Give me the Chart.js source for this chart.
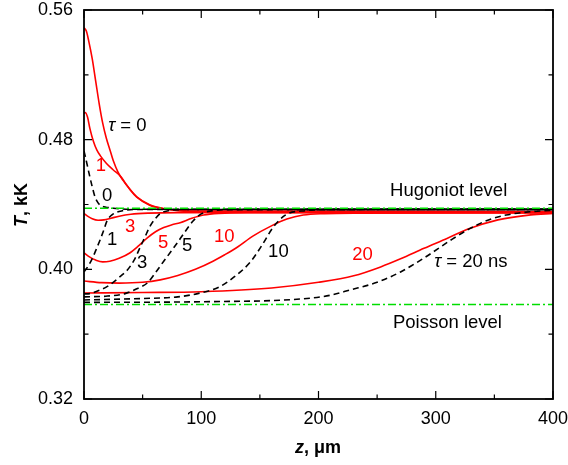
<!DOCTYPE html>
<html>
<head>
<meta charset="utf-8">
<script src="https://cdn.jsdelivr.net/npm/chart.js@4.4.0/dist/chart.umd.min.js"></script>
<style>
  html, body { margin: 0; padding: 0; background: #fff; }
</style>
</head>
<body>
<canvas id="chart" width="568" height="465"></canvas>
<script>
// tick labels
const xTickLabels = [0, 100, 200, 300, 400];
const yTickLabels = [0.32, 0.40, 0.48, 0.56];

// levels
const hugoniotLevel = 0.4377;
const poissonLevel = 0.3783;

// solid red curves (tau = 0, 1, 3, 5, 10, 20 ns)
const zRed0 = [0, 2, 4, 7, 10, 13, 16, 19, 22, 25, 29, 33, 39, 45, 56, 68, 90, 400];
const tRed0 = [0.549, 0.547, 0.541, 0.530, 0.516, 0.502, 0.490, 0.481, 0.474, 0.467, 0.460, 0.4552, 0.4495, 0.4447, 0.4398, 0.4375, 0.436, 0.4357];
const zRed1 = [0, 1, 3, 5, 8, 11, 14, 19, 25, 31, 36, 40, 45, 56, 68, 90, 400];
const tRed1 = [0.496, 0.4968, 0.494, 0.487, 0.479, 0.4735, 0.470, 0.4655, 0.4613, 0.4575, 0.4525, 0.4485, 0.4445, 0.4396, 0.4374, 0.4358, 0.4355];
const zRed3 = [0, 3, 7, 12, 17, 23, 30, 40, 55, 80, 400];
const tRed3 = [0.4345, 0.4328, 0.4312, 0.4303, 0.4305, 0.4315, 0.4328, 0.434, 0.4347, 0.435, 0.4352];
const zRed5 = [0, 5, 10, 16, 22, 30, 39, 47, 54, 61, 68, 75, 82, 92, 102, 115, 140, 400];
const tRed5 = [0.4101, 0.4075, 0.4057, 0.4046, 0.4050, 0.4068, 0.4101, 0.4148, 0.4194, 0.4232, 0.4258, 0.4275, 0.4288, 0.4315, 0.4335, 0.4345, 0.4349, 0.435];
const zRed10 = [0, 15, 30, 50, 65, 80, 95, 110, 120, 131, 144, 159, 173, 187, 205, 230, 400];
const tRed10 = [0.3928, 0.3918, 0.3915, 0.392, 0.3935, 0.3962, 0.400, 0.405, 0.409, 0.4138, 0.4205, 0.4265, 0.431, 0.4335, 0.4344, 0.4347, 0.4348];
const zRed20 = [0, 50, 100, 160, 200, 230, 253, 270, 290, 310, 327, 353, 381, 400];
const tRed20 = [0.3854, 0.3857, 0.3862, 0.3885, 0.392, 0.396, 0.4015, 0.4065, 0.4130, 0.4192, 0.4247, 0.4305, 0.4336, 0.4345];

// dashed black curves (tau = 0, 1, 3, 5, 10, 20 ns)
const zBlk0 = [0, 1, 3, 5, 7, 9.4, 12, 14, 18, 25, 40, 400];
const tBlk0 = [0.473, 0.470, 0.4635, 0.457, 0.451, 0.4447, 0.441, 0.4395, 0.4385, 0.4377, 0.4371, 0.437];
const zBlk1 = [0, 4, 7.7, 10.5, 13.7, 17, 19.7, 23.9, 33, 45, 400];
const tBlk1 = [0.3985, 0.4025, 0.4077, 0.4125, 0.4181, 0.4245, 0.430, 0.4336, 0.4362, 0.4369, 0.437];
const zBlk3 = [0, 5, 10, 20, 30, 37, 43, 48, 52, 56, 60, 65, 72, 85, 400];
const tBlk3 = [0.3848, 0.385, 0.3862, 0.3895, 0.395, 0.3996, 0.406, 0.4138, 0.420, 0.4262, 0.4305, 0.4345, 0.4362, 0.4369, 0.437];
const zBlk5 = [0, 20, 35, 45, 54, 62, 68, 74, 80, 86, 93, 100, 110, 125, 400];
const tBlk5 = [0.383, 0.3835, 0.385, 0.388, 0.3916, 0.399, 0.405, 0.4108, 0.4168, 0.423, 0.4298, 0.4342, 0.4362, 0.4368, 0.437];
const zBlk10 = [0, 50, 80, 99, 115, 127, 142, 152, 161, 172, 189, 210, 400];
const tBlk10 = [0.3811, 0.382, 0.383, 0.3854, 0.389, 0.3947, 0.4046, 0.4151, 0.4256, 0.4336, 0.4362, 0.4368, 0.437];
const zBlk20 = [0, 100, 185, 210, 227, 250, 270, 290, 313, 330, 345, 360, 380, 400];
const tBlk20 = [0.3796, 0.380, 0.3817, 0.384, 0.3873, 0.392, 0.3984, 0.407, 0.4181, 0.4255, 0.4305, 0.4335, 0.4355, 0.4365];

const RED = '#ff0000';
const GREEN = '#00dd00';
const FONT = '"Liberation Sans", Arial, sans-serif';

// text placed on the plot, in data coordinates
const annotations = [
  { parts: [['τ', 'italic '], [' = 0', '']], z: 37, t: 0.4885, color: '#000' },
  { parts: [['1', '']], z: 14.5, t: 0.4638, color: RED },
  { parts: [['0', '']], z: 19.7, t: 0.4453, color: '#000' },
  { parts: [['3', '']], z: 39.3, t: 0.4262, color: RED },
  { parts: [['1', '']], z: 23.9, t: 0.4181, color: '#000' },
  { parts: [['5', '']], z: 67.5, t: 0.4163, color: RED },
  { parts: [['3', '']], z: 49.6, t: 0.404, color: '#000' },
  { parts: [['5', '']], z: 88, t: 0.4144, color: '#000' },
  { parts: [['10', '']], z: 119.7, t: 0.420, color: RED },
  { parts: [['10', '']], z: 165.8, t: 0.4107, color: '#000' },
  { parts: [['20', '']], z: 237.6, t: 0.4089, color: RED },
  { parts: [['τ', 'italic '], [' = 20 ns', '']], z: 330, t: 0.4046, color: '#000' },
  { parts: [['Hugoniot level', '']], z: 311, t: 0.4484, color: '#000' },
  { parts: [['Poisson level', '']], z: 310, t: 0.3669, color: '#000' }
];

function pts(zs, ts) {
  return zs.map((z, i) => ({ x: z, y: ts[i] }));
}

function solid(zs, ts) {
  return { data: pts(zs, ts), borderColor: RED, borderWidth: 1.6, pointRadius: 0, cubicInterpolationMode: 'monotone', fill: false };
}
function dashed(zs, ts) {
  return { data: pts(zs, ts), borderColor: '#000', borderWidth: 1.6, borderDash: [6, 4], pointRadius: 0, cubicInterpolationMode: 'monotone', fill: false };
}
function level(t) {
  return { data: [{ x: 0, y: t }, { x: 400, y: t }], borderColor: GREEN, borderWidth: 1.5, borderDash: [8, 3, 2, 3], pointRadius: 0, fill: false };
}

function drawParts(ctx, parts, cx, cy, size, weight) {
  let total = 0;
  parts.forEach(p => {
    ctx.font = p[1] + (weight || '') + ' ' + size + 'px ' + FONT;
    total += ctx.measureText(p[0]).width;
  });
  let x = cx - total / 2;
  parts.forEach(p => {
    ctx.font = p[1] + (weight || '') + ' ' + size + 'px ' + FONT;
    ctx.fillText(p[0], x, cy);
    x += ctx.measureText(p[0]).width;
  });
}

const framePlugin = {
  id: 'frame',
  afterDraw(chart) {
    const ctx = chart.ctx;
    const a = chart.chartArea;
    const xs = chart.scales.x, ys = chart.scales.y;
    ctx.save();
    ctx.strokeStyle = '#000';
    ctx.lineWidth = 1.8;
    ctx.strokeRect(a.left, a.top, a.right - a.left, a.bottom - a.top);
    ctx.lineWidth = 1.2;
    ctx.beginPath();
    xs.ticks.forEach(tk => {
      const px = xs.getPixelForValue(tk.value);
      const len = xTickLabels.includes(Math.round(tk.value)) ? 8 : 4.5;
      ctx.moveTo(px, a.bottom); ctx.lineTo(px, a.bottom - len);
      ctx.moveTo(px, a.top); ctx.lineTo(px, a.top + len);
    });
    ys.ticks.forEach(tk => {
      const py = ys.getPixelForValue(tk.value);
      const major = Math.round(tk.value * 100) % 8 === 0;
      const len = major ? 8 : 4.5;
      ctx.moveTo(a.left, py); ctx.lineTo(a.left + len, py);
      ctx.moveTo(a.right, py); ctx.lineTo(a.right - len, py);
    });
    ctx.stroke();

    ctx.textAlign = 'left';
    ctx.textBaseline = 'middle';
    annotations.forEach(an => {
      ctx.fillStyle = an.color;
      drawParts(ctx, an.parts, xs.getPixelForValue(an.z), ys.getPixelForValue(an.t), 18.5, '');
    });

    // axis titles
    ctx.fillStyle = '#000';
    drawParts(ctx, [['z', 'italic '], [', μm', '']], 318, 448, 18, 'bold');
    ctx.translate(22, 205);
    ctx.rotate(-Math.PI / 2);
    drawParts(ctx, [['T', 'italic '], [', kK', '']], 0, 0, 18, 'bold');
    ctx.restore();
  }
};

new Chart(document.getElementById('chart'), {
  type: 'line',
  data: {
    datasets: [
      level(hugoniotLevel),
      level(poissonLevel),
      dashed(zBlk0, tBlk0), dashed(zBlk1, tBlk1), dashed(zBlk3, tBlk3),
      dashed(zBlk5, tBlk5), dashed(zBlk10, tBlk10), dashed(zBlk20, tBlk20),
      solid(zRed0, tRed0), solid(zRed1, tRed1), solid(zRed3, tRed3),
      solid(zRed5, tRed5), solid(zRed10, tRed10), solid(zRed20, tRed20)
    ]
  },
  options: {
    responsive: false,
    animation: false,
    layout: { padding: { top: 10, right: 15, left: 0, bottom: 0 } },
    plugins: { legend: { display: false }, tooltip: { enabled: false } },
    scales: {
      x: {
        type: 'linear', min: 0, max: 400,
        grid: { display: false, drawTicks: false },
        border: { display: false },
        ticks: {
          stepSize: 50, padding: 9, color: '#000', maxRotation: 0,
          font: { family: FONT, size: 18 },
          callback: v => xTickLabels.includes(Math.round(v)) ? String(Math.round(v)) : ''
        },
        afterFit: s => { s.height = 66; s.paddingLeft = 0; s.paddingRight = 0; }
      },
      y: {
        type: 'linear', min: 0.32, max: 0.56,
        grid: { display: false, drawTicks: false },
        border: { display: false },
        ticks: {
          stepSize: 0.04, padding: 11, color: '#000',
          font: { family: FONT, size: 18 },
          callback: v => Math.round(v * 100) % 8 === 0 ? v.toFixed(2) : ''
        },
        afterFit: s => { s.width = 84; s.paddingTop = 0; s.paddingBottom = 0; }
      }
    }
  },
  plugins: [framePlugin]
});
</script>
</body>
</html>
